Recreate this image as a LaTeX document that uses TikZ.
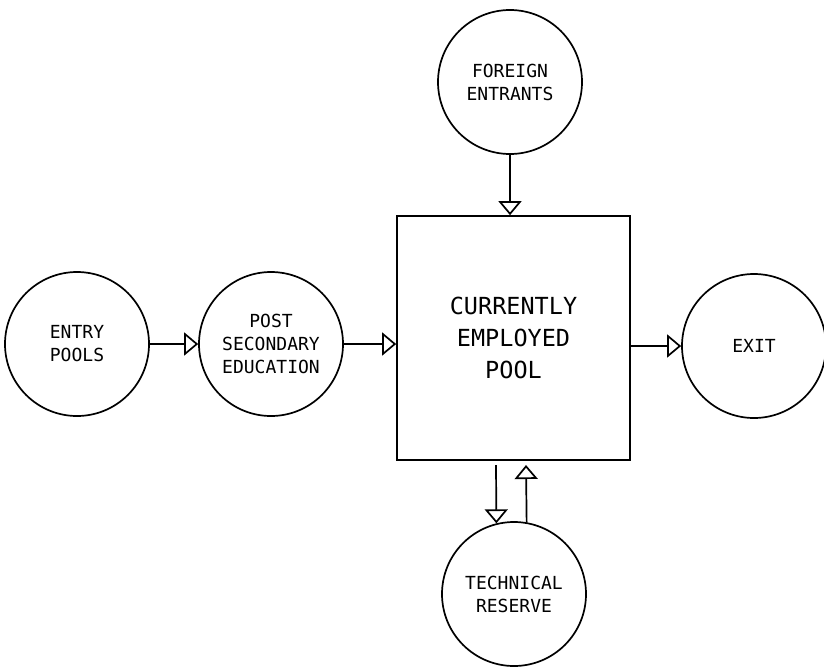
\documentclass[tikz,border=0pt]{standalone}
\usepackage{fontspec}
\setmainfont{DejaVu Sans Mono}
\usetikzlibrary{arrows.meta}
\begin{document}
\begin{tikzpicture}[x=1pt,y=-1pt,
  pool/.style={draw,circle,line width=1.7pt,minimum size=144pt,inner sep=0pt,
    align=center,font=\fontsize{18}{23}\selectfont},
  bigbox/.style={draw,rectangle,line width=1.7pt,minimum width=233pt,minimum height=244pt,
    inner sep=0pt,align=center,font=\fontsize{23.5}{32}\selectfont},
  flow/.style={line width=1.7pt,-{Triangle[open,length=14pt,width=23pt,line width=1.7pt]}}]
\useasboundingbox (0,0) rectangle (824,670);
\node[pool] (entry) at (77,344) {ENTRY\\POOLS};
\node[pool] (post) at (271,344) {POST\\SECONDARY\\EDUCATION};
\node[pool] (foreign) at (510,82) {FOREIGN\\ENTRANTS};
\node[bigbox] (box) at (513.5,338) {CURRENTLY\\EMPLOYED\\POOL};
\node[pool] (tech) at (514,594) {TECHNICAL\\RESERVE};
\node[pool] (exit) at (754,346) {EXIT};
\coordinate (d1) at (496,465);
\coordinate (u1) at (526,465);
\draw[flow] (entry.east) -- (post.west);
\draw[flow] (post.east) -- (post.east -| box.west);
\draw[flow] (box.east |- exit.west) -- (exit.west);
\draw[flow] (foreign.south) -- (foreign.south |- box.north);
\draw[flow] (d1) -- (tech.104.3);
\draw[flow] (tech.80.5) -- (u1);
\end{tikzpicture}
\end{document}
